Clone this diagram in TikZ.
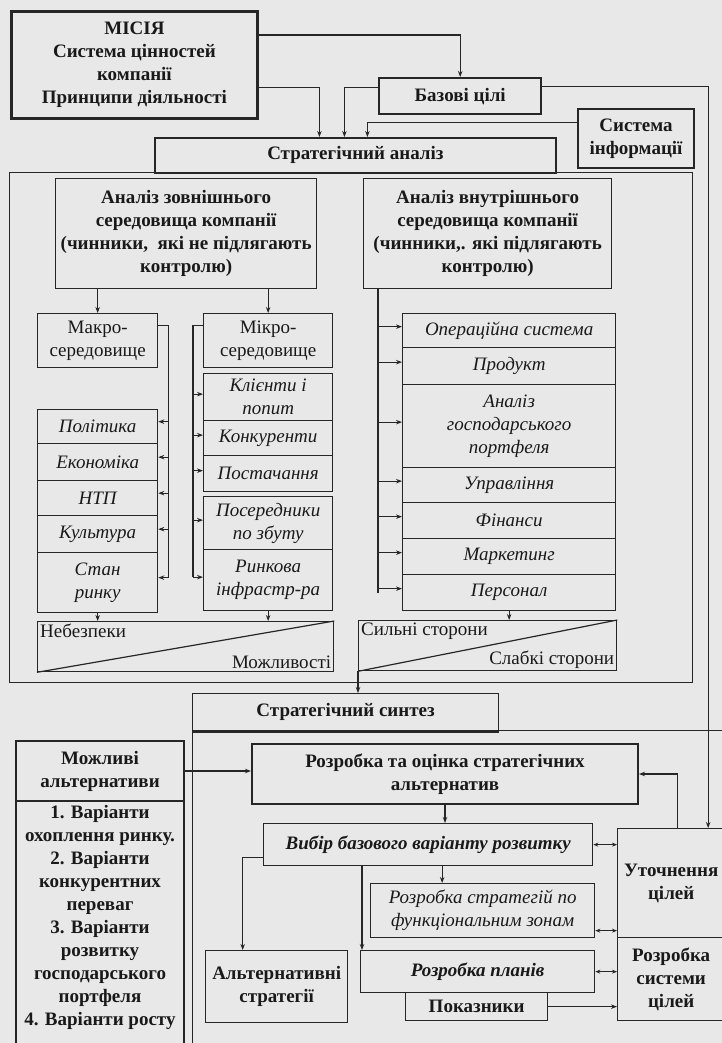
\documentclass[tikz,border=0pt]{standalone}
\usepackage{fontspec}
\setmainfont{Liberation Serif}
\usetikzlibrary{arrows.meta,positioning,calc}

\begin{document}
\begin{tikzpicture}[x=1pt,y=-1pt,
  every node/.append style={text=black!90},
  box/.style={draw=black!85,line width=1.3pt,anchor=north west,align=center,inner sep=1pt,font=\fontsize{19}{23}\selectfont},
  bbox/.style={box,font=\fontsize{19}{23}\selectfont\bfseries},
  hbox/.style={bbox,line width=2.4pt},
  ibox/.style={box,font=\fontsize{19}{23}\selectfont\itshape},
  bibox/.style={box,font=\fontsize{19}{23}\selectfont\bfseries\itshape},
  lbl/.style={font=\fontsize{19}{23}\selectfont,inner sep=3pt},
  ln/.style={draw=black!85,line width=1.2pt},
  arr/.style={ln,-{Stealth[length=6pt,width=4.5pt]}},
  darr/.style={ln,{Stealth[length=5pt,width=4pt]}-{Stealth[length=5pt,width=4pt]}}]
\path[use as bounding box,fill=black!9] (0,0) rectangle (722,1043);

\node[hbox,line width=2.8pt,minimum width=246pt,minimum height=107pt] (mission) at (10,10) {МІСІЯ\\Система цінностей\\компанії\\Принципи діяльності};
\node[hbox,minimum width=162pt,minimum height=36pt] (goals) at (378,77) {Базові цілі};
\node[hbox,line width=2pt,minimum width=116pt,minimum height=59pt] (info) at (577,108) {Система\\інформації};

\node[box,minimum width=683pt,minimum height=510pt] (sabox) at (9,172) {};
\node[hbox,line width=1.8pt,minimum width=401pt,minimum height=35pt] (sa) at (154,137) {Стратегічний аналіз};

\draw[arr] ([yshift=-25pt]mission.north east) -| (goals.north);
\draw[arr] ([yshift=32pt]mission.south east) -| ([xshift=-36pt]sa.north);
\draw[arr] ([yshift=9pt]goals.west) -| ([xshift=-11pt]sa.north);
\draw[arr] ([yshift=16pt]info.west) -| ([xshift=12pt]sa.north);

\node[bbox,minimum width=261pt,minimum height=110pt] (ext) at (55,178) {Аналіз зовнішнього\\середовища компанії\\(чинники,\ \ які не підлягають\\контролю)};
\node[bbox,minimum width=248pt,minimum height=110pt] (int) at (363,178) {Аналіз внутрішнього\\середовища компанії\\(чинники,. які підлягають\\контролю)};

\node[box,minimum width=120pt,minimum height=54pt] (macro) at (37,313) {Макро-\\середовище};
\node[box,minimum width=129pt,minimum height=54pt] (micro) at (203,313) {Мікро-\\середовище};

\node[ibox,minimum width=120pt,minimum height=34pt] (pol) at (37,409) {Політика};
\node[ibox,minimum width=120pt,minimum height=37pt] (econ) at (37,443) {Економіка};
\node[ibox,minimum width=120pt,minimum height=35pt] (ntp) at (37,480) {НТП};
\node[ibox,minimum width=120pt,minimum height=37pt] (cult) at (37,515) {Культура};
\node[ibox,minimum width=120pt,minimum height=60pt] (mkt) at (37,552) {Стан\\ринку};

\node[ibox,minimum width=129pt,minimum height=47pt] (cli) at (203,373) {Клієнти і\\попит};
\node[ibox,minimum width=129pt,minimum height=35pt] (conc) at (203,420) {Конкуренти};
\node[ibox,minimum width=129pt,minimum height=36pt] (supp) at (203,455) {Постачання};
\node[ibox,minimum width=129pt,minimum height=53pt] (inter) at (203,496) {Посередники\\по збуту};
\node[ibox,minimum width=129pt,minimum height=61pt] (infra) at (203,549) {Ринкова\\інфрастр-ра};

\node[ibox,minimum width=213pt,minimum height=34pt] (ops) at (402,313) {Операційна система};
\node[ibox,minimum width=213pt,minimum height=37pt] (prod) at (402,347) {Продукт};
\node[ibox,minimum width=213pt,minimum height=83pt] (port) at (402,384) {Аналіз\\господарського\\портфеля};
\node[ibox,minimum width=213pt,minimum height=35pt] (mgmt) at (402,467) {Управління};
\node[ibox,minimum width=213pt,minimum height=36pt] (fin) at (402,502) {Фінанси};
\node[ibox,minimum width=213pt,minimum height=36pt] (mark) at (402,538) {Маркетинг};
\node[ibox,minimum width=213pt,minimum height=36pt] (pers) at (402,574) {Персонал};

\node[box,minimum width=296pt,minimum height=50pt] (threats) at (37,621) {};
\draw[ln] (threats.south west) -- (threats.north east);
\node[lbl,anchor=north west] (thr) at (threats.north west) {Небезпеки};
\node[lbl,anchor=south east] (opp) at (threats.south east) {Можливості};

\node[box,minimum width=258pt,minimum height=50pt] (str) at (358,620) {};
\draw[ln] (str.south west) -- (str.north east);
\node[lbl,anchor=north west] (strong) at (str.north west) {Сильні сторони};
\node[lbl,anchor=south east] (weak) at (str.south east) {Слабкі сторони};

\draw[arr] (ext.south -| macro.north) -- (macro.north);
\draw[arr] (ext.south -| micro.north) -- (micro.north);
\draw[ln] ([yshift=15pt]macro.east) -| ([xshift=10pt,yshift=5pt]mkt.east);
\foreach \n in {pol,econ,ntp,cult,mkt}
  \draw[arr] ([xshift=10pt,yshift=5pt]\n.east) -- ([yshift=5pt]\n.east);
\draw[ln] ([yshift=15pt]micro.west) -| ([xshift=-10pt,yshift=3pt]infra.west);
\foreach \n in {cli,conc,supp,inter,infra}
  \draw[arr] ([xshift=-10pt,yshift=3pt]\n.west) -- ([yshift=3pt]\n.west);
\draw[ln] ([xshift=15pt]int.south west) -- ([xshift=-24pt]pers.west);
\foreach \n in {ops,prod,port,mgmt,fin,mark,pers}
  \draw[arr] ([xshift=-24pt,yshift=4pt]\n.west) -- ([yshift=4pt]\n.west);
\draw[arr] (mkt.south) -- (mkt.south |- threats.north);
\draw[arr] (infra.south) -- (infra.south |- threats.north);
\draw[arr] (pers.south) -- (pers.south |- str.north);

\node[box,minimum width=560pt,minimum height=340pt] (ssbox) at (192,730) {};
\node[bbox,minimum width=306pt,minimum height=37pt] (ss) at (192,693) {Стратегічний синтез};
\draw[ln,line width=2.4pt] (ss.south west) -- (ss.south east);
\draw[arr] (str.south west) -- (str.south west |- ss.north);

\node[bbox,line width=2pt,minimum width=168pt,minimum height=60pt] (altsh) at (15,740) {Можливі\\альтернативи};
\node[box,line width=2pt,minimum width=168pt,minimum height=300pt] (altsl) at (15,800) {};
\node[bbox,draw=none,anchor=north] (altstxt) at ([yshift=-4pt]altsl.north) {1. Варіанти\\охоплення ринку.\\2. Варіанти\\конкурентних\\переваг\\3. Варіанти\\розвитку\\господарського\\портфеля\\4. Варіанти росту};

\node[hbox,line width=2pt,minimum width=386pt,minimum height=60pt] (dev) at (251,743) {Розробка та оцінка стратегічних\\альтернатив};
\node[bibox,minimum width=329pt,minimum height=42pt] (choice) at (263,823) {Вибір базового варіанту розвитку};
\node[ibox,minimum width=224pt,minimum height=54pt] (funz) at (370,883) {Розробка стратегій по\\функціональним зонам};
\node[bibox,minimum width=234pt,minimum height=42pt] (plans) at (360,950) {Розробка планів};
\node[bbox,minimum width=142pt,minimum height=28pt] (ind) at (405,992) {Показники};
\node[bbox,minimum width=142pt,minimum height=72pt] (altstr) at (205,950) {Альтернативні\\стратегії};
\node[bbox,minimum width=107pt,minimum height=109pt] (refine) at (617,828) {Уточнення\\цілей};
\node[bbox,minimum width=107pt,minimum height=83pt] (gsys) at (617,937) {Розробка\\системи\\цілей};

\draw[arr] ([yshift=10pt]goals.east) -| ([xshift=37pt]refine.north);
\draw[arr] (altsh.east) -- (altsh.east -| dev.west);
\draw[arr] (dev.south) -- (dev.south |- choice.north);
\draw[arr] ([yshift=-13pt]choice.west) -| ([xshift=-34pt]altstr.north);
\draw[arr] ([xshift=14pt]choice.south) -- ($(choice.south |- funz.north)+(14,0)$);
\draw[arr] ($(choice.south -| plans.west)+(2,0)$) -- ([xshift=2pt]plans.north west);
\draw[darr] (choice.east) -- (choice.east -| refine.west);
\draw[darr] ($(funz.east)+(0,20)$) -- ($(funz.east -| refine.west)+(0,20)$);
\draw[darr] (plans.east) -- (plans.east -| gsys.west);
\draw[arr] (ind.east) -- (ind.east -| gsys.west);
\draw[arr] ([xshift=6pt]refine.north) |- (dev.east);
\end{tikzpicture}
\end{document}
